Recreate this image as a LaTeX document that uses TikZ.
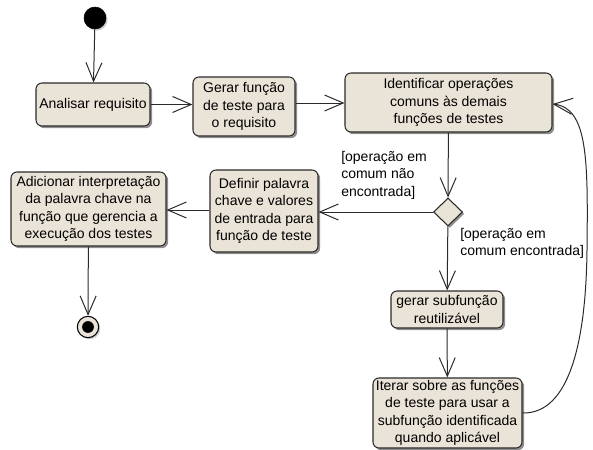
\documentclass[tikz,border=0pt]{standalone}
\usepackage{fontspec}
\setmainfont{Liberation Sans}
\usetikzlibrary{arrows.meta,shapes.geometric,shadows}
\definecolor{boxfill}{HTML}{EAE3D7}
\definecolor{boxline}{HTML}{2A2A2A}
\tikzset{
  act/.style={draw=boxline, line width=0.8pt, fill=boxfill, rounded corners=4.5pt,
    align=center, inner sep=1pt, font=\fontsize{10.5pt}{13pt}\selectfont,
    drop shadow={shadow xshift=1.6pt, shadow yshift=-1.6pt, fill=black!55, opacity=0.8}},
  dec/.style={diamond, draw=boxline, line width=0.8pt, fill=boxfill, inner sep=0pt,
    minimum width=21.75pt, minimum height=21pt,
    drop shadow={shadow xshift=1.4pt, shadow yshift=-1.4pt, fill=black!55, opacity=0.8}},
  flow/.style={draw=boxline, line width=0.75pt, -{Straight Barb[length=14pt,width=12pt,line width=0.75pt]}},
  guard/.style={align=left, inner sep=0pt, font=\fontsize{10.5pt}{13pt}\selectfont},
}
\begin{document}
\begin{tikzpicture}[x=0.75pt,y=-0.75pt]
\useasboundingbox (0,0) rectangle (593,450);
% start
\node[circle, fill=black, draw=black, minimum size=16.5pt, inner sep=0pt,
  drop shadow={shadow xshift=1.2pt, shadow yshift=-1.2pt, fill=black!40}] (start) at (95,18) {};
% activities
\node[act, minimum width=85.5pt, minimum height=32.25pt] (analisar) at (93,104.5) {Analisar requisito};
\node[act, minimum width=76.5pt, minimum height=44.25pt] (gerar) at (244,106.5) {Gerar função\\de teste para\\o requisito};
\node[act, minimum width=155.25pt, minimum height=44.25pt] (ident) at (448.5,102.5) {Identificar operações\\comuns às demais\\funções de testes};
\node[dec] (dec) at (448,212) {};
\node[act, minimum width=81pt, minimum height=61.5pt] (definir) at (264,211) {Definir palavra\\chave e valores\\de entrada para\\função de teste};
\node[act, minimum width=116.25pt, minimum height=55.5pt] (adicionar) at (88.5,209) {Adicionar interpretação\\da palavra chave na\\função que gerencia a\\execução dos testes};
\node[act, minimum width=84pt, minimum height=27.75pt] (sub) at (447,309.5) {gerar subfunção\\reutilizável};
\node[act, minimum width=111.75pt, minimum height=52.5pt] (iterar) at (447.5,413) {Iterar sobre as funções\\de teste para usar a\\subfunção identificada\\quando aplicável};
% end
\node[circle, draw=black, line width=0.8pt, fill=boxfill, minimum size=16pt, inner sep=0pt,
  drop shadow={shadow xshift=1.2pt, shadow yshift=-1.2pt, fill=black!40}] (end) at (88,327) {};
\fill[black] (end.center) circle (4.4pt);
% guards
\node[guard, anchor=north west] (g1) at (341,151) {[operação em\\comum não\\encontrada]};
\node[guard, anchor=north west] (g2) at (460,228) {[operação em\\comum encontrada]};
% flows
\draw[flow] (start) -- (analisar);
\draw[flow] (analisar) -- (gerar.west |- analisar.east);
\draw[flow] (gerar.east |- 0,103) -- (ident.west |- 0,103);
\draw[flow] (ident) -- (dec);
\draw[flow] (dec.west) -- (definir.east |- dec.west);
\draw[flow] (definir.west |- 0,210) -- (adicionar.east |- 0,210);
\draw[flow] (adicionar) -- (end);
\draw[flow] (dec) -- (sub);
\draw[flow] (sub) -- (iterar);
\coordinate (loopin) at (ident.east |- 0,104);
\draw[flow] (iterar.east) .. controls (570,414) and (586,340) .. (587,250)
  .. controls (588,160) and (588,108) .. (loopin);
\end{tikzpicture}
\end{document}
